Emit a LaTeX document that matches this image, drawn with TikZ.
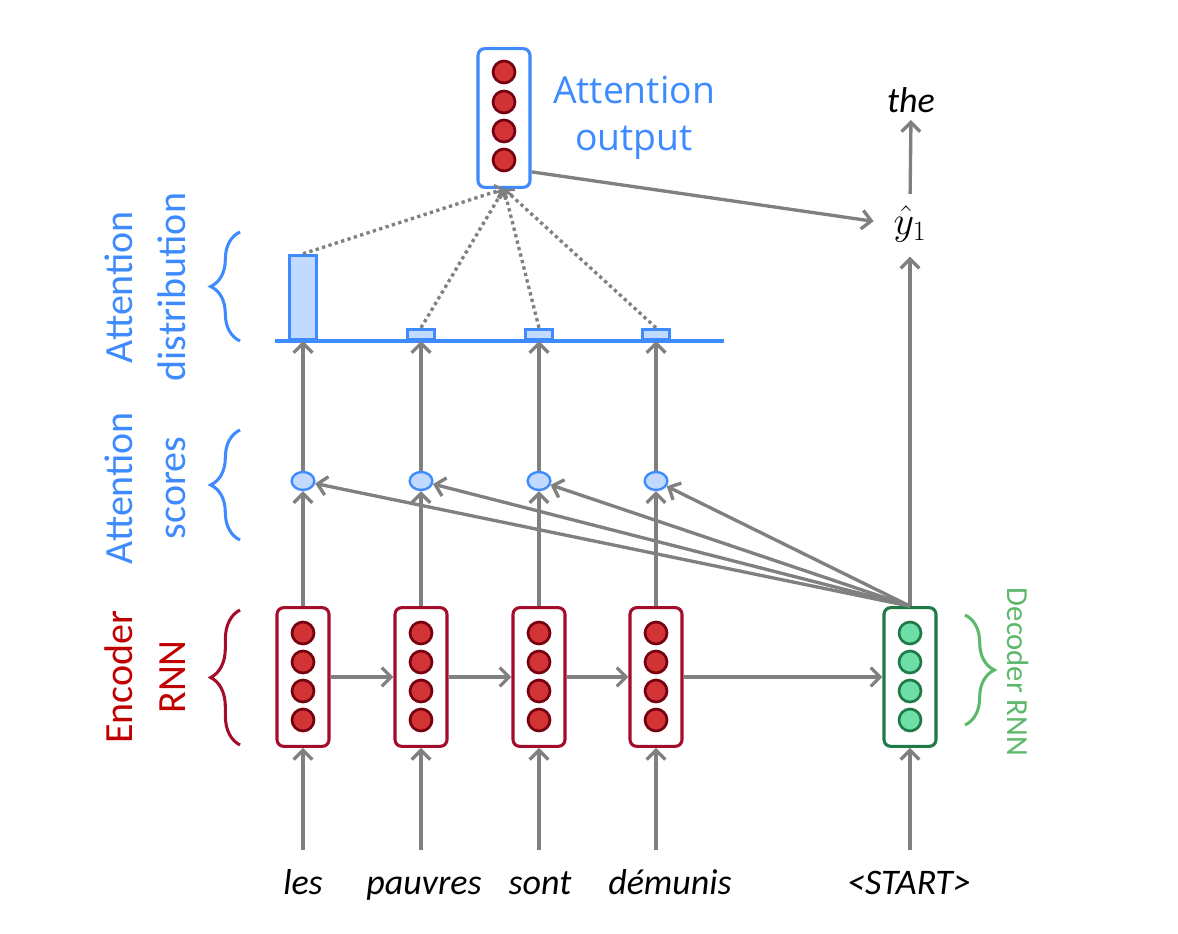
\RequirePackage{fix-cm}
\documentclass[tikz,border=0pt]{standalone}
\usepackage{fontspec}
\usepackage{amsmath}
\setmainfont{Carlito}
\newfontfamily\headfont{Open Sans}
\usetikzlibrary{arrows.meta,positioning,calc,shapes.geometric,decorations.pathreplacing}
\definecolor{encred}{HTML}{A30D2B}
\definecolor{enclab}{HTML}{C00000}
\definecolor{unitred}{HTML}{D23436}
\definecolor{unitdark}{HTML}{760010}
\definecolor{attblue}{HTML}{3D8BFF}
\definecolor{attlight}{HTML}{C2DAFF}
\definecolor{decgreen}{HTML}{1E7A46}
\definecolor{unitgreen}{HTML}{6EDEA8}
\definecolor{declab}{HTML}{5CB86A}
\definecolor{arrowgray}{HTML}{808080}

\begin{document}
\begin{tikzpicture}[x=0.75pt,y=-0.75pt,
  rnn/.style={draw=#1, line width=2.3pt, rounded corners=5pt, fill=white, minimum width=39pt, minimum height=104pt, inner sep=0pt},
  unit/.style 2 args={circle, draw=#1, fill=#2, line width=2pt, minimum size=16.5pt, inner sep=0pt},
  score/.style={ellipse, draw=attblue, fill=attlight, line width=1.8pt, minimum width=17pt, minimum height=13.5pt, inner sep=0pt},
  bar/.style={draw=attblue, fill=attlight, line width=2.4pt, minimum width=20pt, inner sep=0pt, anchor=south},
  flow/.style={draw=arrowgray, line width=2.5pt, -{Straight Barb[length=7pt,width=14pt,line width=2.5pt]}},
  attn/.style={draw=arrowgray, line width=2.5pt, dash pattern=on 2.5pt off 2.5pt, -{Straight Barb[length=5pt,width=10pt,line width=2pt]}},
  word/.style={font=\fontsize{27}{32}\selectfont\itshape, anchor=base},
  sidelab/.style={font=\fontsize{30}{40}\selectfont, align=center, rotate=90},
  brc/.style={draw=#1, line width=2.3pt, decorate, decoration={brace, amplitude=22pt}}]
  \useasboundingbox (0,0) rectangle (1178,934);

  % encoder and decoder
  \foreach \i/\x in {1/303,2/421,3/539,4/656}{
    \node[rnn=encred] (enc\i) at (\x,677) {};
    \foreach \y in {633,662,691,720}
      \node[unit={unitdark}{unitred}] at (\x,\y) {};
    \node[score] (sc\i) at (\x,481) {};
  }
  \node[rnn=decgreen] (dec) at (910,677) {};
  \foreach \y in {633,662,691,720}
    \node[unit={decgreen}{unitgreen}] at (910,\y) {};

  % attention output
  \node[rnn=attblue] (attout) at (504,118) {};
  \foreach \y in {72,102,131,160}
    \node[unit={unitdark}{unitred}] at (504,\y) {};
  \node[font=\fontsize{28}{35}\selectfont\headfont, text=attblue, align=center] (outlab) at (634,118) {Attention\\output};

  % distribution
  \draw[draw=attblue, line width=2.3pt] (275,341) -- (724,341);
  \foreach \i/\x/\h in {1/303/63pt,2/421/7.5pt,3/539/7.5pt,4/656/7.5pt}
    \node[bar, minimum height=\h] (bar\i) at (\x,341) {};

  % words
  \foreach \i/\x/\w in {1/303/les,2/424/pauvres,3/540/sont,4/670/démunis,5/909/<START>}
    \node[word] (w\i) at (\x,894) {\w};
  \node[font=\fontsize{30}{34}\selectfont, inner sep=1pt] (yhat) at (910,224) {$\hat{y}_1$};
  \node[word, anchor=center] (the) at (911,100) {the};

  % connectors
  \foreach \i in {1,...,4}{
    \draw[flow] (enc\i.south |- 0,850) -- (enc\i.south);
    \draw[flow] (enc\i.north) -- (sc\i.south);
    \draw[flow] (sc\i.north) -- (bar\i.south);
    \draw[attn] (bar\i.north) -- (attout.south);
    \draw[flow] (dec.north) -- (sc\i);
  }
  \foreach \a/\b in {enc1/enc2,enc2/enc3,enc3/enc4,enc4/dec}
    \draw[flow] (\a) -- (\b);
  \draw[flow] (dec.south |- 0,850) -- (dec.south);
  \draw[flow, shorten >=10pt] (dec.north) -- (yhat.south);
  \draw[flow, shorten <=8pt, shorten >=2pt] (yhat.north) -- (the.south);
  \draw[flow, shorten >=14pt] ($(attout.south east)+(0,-17)$) -- (yhat.west);

  % side labels
  \node[sidelab, text=enclab] (enclabel) at (145,677) {Encoder\\RNN};
  \node[sidelab, text=attblue] (sclabel) at (145,488) {Attention\\scores};
  \node[sidelab, text=attblue] (distlabel) at (145,287) {Attention\\distribution};
  \node[font=\fontsize{23}{28}\selectfont, text=declab, rotate=-90] (declabel) at (1018,672) {Decoder RNN};
  \draw[brc=encred] (240,745) -- (240,610);
  \draw[brc=attblue] (240,540) -- (240,430);
  \draw[brc=attblue] (240,341) -- (240,232);
  \draw[brc=declab] (965,615) -- (965,725);
\end{tikzpicture}
\end{document}
